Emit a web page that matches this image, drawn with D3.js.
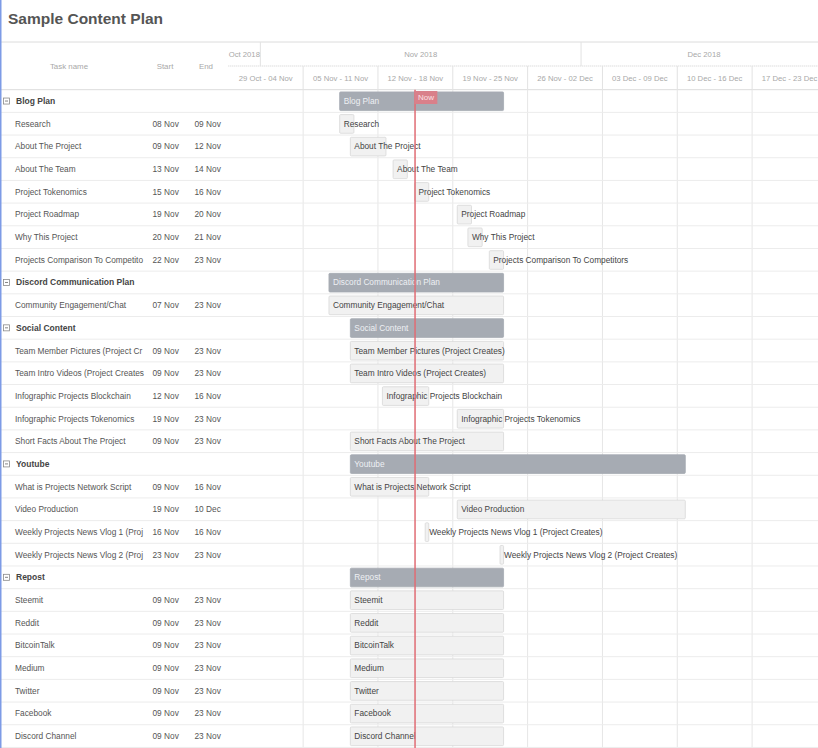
<!DOCTYPE html>
<html>
<head>
<meta charset="utf-8">
<script src="https://cdn.jsdelivr.net/npm/d3@7"></script>
<style>
  body { margin: 0; background: #fff; overflow: hidden; font-family: "Liberation Sans", Arial, sans-serif; }
</style>
</head>
<body>
<svg id="chart" width="818" height="748"></svg>
<script>
// ─── Data ────────────────────────────────────────────────────────────────────
const groupNames = ['Blog Plan', 'Discord Communication Plan', 'Social Content', 'Youtube', 'Repost'];

const taskNames = [
  'Research', 'About The Project', 'About The Team', 'Project Tokenomics', 'Project Roadmap',
  'Why This Project', 'Projects Comparison To Competitors',
  'Community Engagement/Chat',
  'Team Member Pictures (Project Creates)', 'Team Intro Videos (Project Creates)',
  'Infographic Projects Blockchain', 'Infographic Projects Tokenomics', 'Short Facts About The Project',
  'What is Projects Network Script', 'Video Production',
  'Weekly Projects News Vlog 1 (Project Creates)', 'Weekly Projects News Vlog 2 (Project Creates)',
  'Steemit', 'Reddit', 'BitcoinTalk', 'Medium', 'Twitter', 'Facebook', 'Discord Channel'
];
const taskGroup = [0,0,0,0,0,0,0, 1, 2,2,2,2,2, 3,3,3,3, 4,4,4,4,4,4,4];
const taskStart = [
  '2018-11-08','2018-11-09','2018-11-13','2018-11-15','2018-11-19','2018-11-20','2018-11-22',
  '2018-11-07',
  '2018-11-09','2018-11-09','2018-11-12','2018-11-19','2018-11-09',
  '2018-11-09','2018-11-19','2018-11-16','2018-11-23',
  '2018-11-09','2018-11-09','2018-11-09','2018-11-09','2018-11-09','2018-11-09','2018-11-09'
];
const taskEnd = [
  '2018-11-09','2018-11-12','2018-11-14','2018-11-16','2018-11-20','2018-11-21','2018-11-23',
  '2018-11-23',
  '2018-11-23','2018-11-23','2018-11-16','2018-11-23','2018-11-23',
  '2018-11-16','2018-12-10','2018-11-16','2018-11-23',
  '2018-11-23','2018-11-23','2018-11-23','2018-11-23','2018-11-23','2018-11-23','2018-11-23'
];
const workStartHour = 10;   // tasks run 10:00 on start day …
const workEndHour   = 18;   // … to 18:00 on end day
const nowTime    = '2018-11-15T11:15';
const rangeStart = '2018-10-29';
const rangeEnd   = '2018-12-24';

// ─── Layout ─────────────────────────────────────────────────────────────────
const W = 818, H = 748;
const headTop = 42, headMid = 66, bodyTop = 89.7, rowH = 22.68;
const gridW = 228.3, dayW = 10.69;
const nameColW = 133;
const FONT = '"Liberation Sans", Arial, sans-serif';

const parseDay = d3.timeParse('%Y-%m-%d');
const parseNow = d3.timeParse('%Y-%m-%dT%H:%M');
const fmtDay = d3.timeFormat('%d %b');
const withHour = (s, h) => d3.timeHour.offset(parseDay(s), h);

const t0 = parseDay(rangeStart), t1 = parseDay(rangeEnd);
const x = d3.scaleTime().domain([t0, t1]).range([gridW, gridW + d3.timeDay.count(t0, t1) * dayW]);

// Build rows: group row followed by its tasks
const rows = [];
groupNames.forEach((g, gi) => {
  const idx = taskNames.map((_, i) => i).filter(i => taskGroup[i] === gi);
  const s = d3.min(idx, i => withHour(taskStart[i], workStartHour));
  const e = d3.max(idx, i => withHour(taskEnd[i], workEndHour));
  rows.push({ type: 'group', name: g, start: s, end: e });
  for (const i of idx) {
    rows.push({
      type: 'task', name: taskNames[i],
      start: withHour(taskStart[i], workStartHour),
      end: withHour(taskEnd[i], workEndHour),
      startLabel: fmtDay(parseDay(taskStart[i])),
      endLabel: fmtDay(parseDay(taskEnd[i]))
    });
  }
});
const y = d3.scaleBand().domain(d3.range(rows.length)).range([bodyTop, bodyTop + rows.length * rowH]);

const svg = d3.select('#chart').attr('font-family', FONT);

// Title
svg.append('text').attr('x', 8).attr('y', 24)
  .attr('font-size', 15.5).attr('font-weight', 'bold').attr('fill', '#555')
  .text('Sample Content Plan');

// ─── Header ────────────────────────────────────────────────────────────────
const head = svg.append('g');
head.append('line').attr('x1', 0).attr('x2', W).attr('y1', headTop).attr('y2', headTop)
  .attr('stroke', '#dcdcdc');
head.append('line').attr('x1', gridW).attr('x2', W).attr('y1', headMid).attr('y2', headMid)
  .attr('stroke', '#cfcfcf').attr('stroke-dasharray', '1,1');
head.append('line').attr('x1', 0).attr('x2', W).attr('y1', bodyTop).attr('y2', bodyTop)
  .attr('stroke', '#dcdcdc');

const headCols = [['Task name', 69], ['Start', 165], ['End', 206]];
head.selectAll('text.col').data(headCols).join('text')
  .attr('class', 'col')
  .attr('x', d => d[1]).attr('y', (headTop + bodyTop) / 2 + 3)
  .attr('text-anchor', 'middle').attr('font-size', 7.9).attr('fill', '#a8a8a8')
  .text(d => d[0]);

// Months
const months = d3.timeMonth.range(d3.timeMonth.floor(t0), t1);
const monthCells = months.map(m => ({
  label: d3.timeFormat('%b %Y')(m),
  x0: x(d3.max([m, t0])),
  x1: x(d3.min([d3.timeMonth.offset(m, 1), t1]))
}));
head.selectAll('line.month').data(monthCells.slice(1)).join('line')
  .attr('class', 'month')
  .attr('x1', d => d.x0).attr('x2', d => d.x0)
  .attr('y1', headTop).attr('y2', headMid).attr('stroke', '#e2e2e2');
head.selectAll('text.month').data(monthCells).join('text')
  .attr('class', 'month')
  .attr('x', d => (d.x0 + d.x1) / 2).attr('y', (headTop + headMid) / 2 + 3)
  .attr('text-anchor', 'middle').attr('font-size', 7.7).attr('fill', '#a8a8a8')
  .text(d => d.label);

// Weeks
const weeks = d3.timeMonday.range(t0, t1);
head.selectAll('line.week').data(weeks.slice(1)).join('line')
  .attr('class', 'week')
  .attr('x1', d => x(d)).attr('x2', d => x(d))
  .attr('y1', headMid).attr('y2', bodyTop).attr('stroke', '#e2e2e2');
head.selectAll('text.week').data(weeks).join('text')
  .attr('class', 'week')
  .attr('x', d => (x(d) + x(d3.timeDay.offset(d, 7))) / 2).attr('y', (headMid + bodyTop) / 2 + 3)
  .attr('text-anchor', 'middle').attr('font-size', 7.7).attr('fill', '#a8a8a8')
  .text(d => `${fmtDay(d)} - ${fmtDay(d3.timeDay.offset(d, 6))}`);

// ─── Body grid ──────────────────────────────────────────────────────────────
const body = svg.append('g');
body.selectAll('line.vgrid').data(weeks.slice(1)).join('line')
  .attr('class', 'vgrid')
  .attr('x1', d => x(d)).attr('x2', d => x(d))
  .attr('y1', bodyTop).attr('y2', H).attr('stroke', '#e6e6e6');
body.selectAll('line.hgrid').data(rows).join('line')
  .attr('class', 'hgrid')
  .attr('x1', 0).attr('x2', W)
  .attr('y1', (_, i) => y(i) + rowH).attr('y2', (_, i) => y(i) + rowH)
  .attr('stroke', '#ececec');

// ─── Table ──────────────────────────────────────────────────────────────────
const table = svg.append('g');
const rowG = table.selectAll('g.row').data(rows).join('g')
  .attr('class', 'row')
  .attr('transform', (_, i) => `translate(0,${y(i) + rowH / 2})`);

const grp = rowG.filter(d => d.type === 'group');
grp.append('rect').attr('x', 3.5).attr('y', -3).attr('width', 6).attr('height', 6)
  .attr('fill', '#fff').attr('stroke', '#8a8a8a').attr('stroke-width', 0.8);
grp.append('line').attr('x1', 5).attr('x2', 8).attr('y1', 0).attr('y2', 0)
  .attr('stroke', '#666').attr('stroke-width', 0.8);
grp.append('text').attr('x', 16).attr('y', 3)
  .attr('font-size', 8.5).attr('font-weight', 'bold').attr('fill', '#444')
  .text(d => d.name);

const tsk = rowG.filter(d => d.type === 'task');
tsk.append('text').attr('x', 15).attr('y', 3)
  .attr('font-size', 8.3).attr('fill', '#555')
  .text(d => d.name)
  .each(function (d) {
    // cut long names to the column width, the way the grid cell crops them
    let s = d.name;
    while (s.length > 1 && this.getComputedTextLength() > nameColW - 3) {
      s = s.slice(0, -1);
      this.textContent = s;
    }
  });
tsk.append('text').attr('x', 152.5).attr('y', 3)
  .attr('font-size', 8.3).attr('fill', '#555').text(d => d.startLabel);
tsk.append('text').attr('x', 194.5).attr('y', 3)
  .attr('font-size', 8.3).attr('fill', '#555').text(d => d.endLabel);

// ─── Bars ───────────────────────────────────────────────────────────────────
const bars = svg.append('g');
const barG = bars.selectAll('g.bar').data(rows).join('g')
  .attr('class', 'bar')
  .attr('transform', (_, i) => `translate(0,${y(i)})`);
barG.append('rect')
  .attr('x', d => x(d.start)).attr('y', 2.2)
  .attr('width', d => x(d.end) - x(d.start)).attr('height', rowH - 4)
  .attr('rx', 1)
  .attr('fill', d => d.type === 'group' ? '#a6abb3' : '#f1f1f1')
  .attr('stroke', d => d.type === 'group' ? '#a6abb3' : '#d8d8d8')
  .attr('stroke-width', 0.8);
barG.append('text')
  .attr('x', d => x(d.start) + 4).attr('y', rowH / 2 + 3)
  .attr('font-size', 8.3)
  .attr('fill', d => d.type === 'group' ? '#eef0f3' : '#444')
  .text(d => d.name);

// ─── Now marker ─────────────────────────────────────────────────────────────
const nowX = x(parseNow(nowTime));
const nowG = svg.append('g');
nowG.append('line').attr('x1', nowX).attr('x2', nowX).attr('y1', bodyTop).attr('y2', H)
  .attr('stroke', '#e06c74').attr('stroke-width', 1.5);
nowG.append('rect').attr('x', nowX - 0.7).attr('y', bodyTop + 1.3).attr('width', 23).attr('height', 13)
  .attr('fill', '#d9808a');
nowG.append('text').attr('x', nowX + 3).attr('y', bodyTop + 10.5)
  .attr('font-size', 8).attr('fill', '#fbe1e4').text('Now');

// left page edge
svg.append('line').attr('x1', 0.75).attr('x2', 0.75).attr('y1', 0).attr('y2', H)
  .attr('stroke', '#7d9be6').attr('stroke-width', 1.5);
</script>
</body>
</html>
